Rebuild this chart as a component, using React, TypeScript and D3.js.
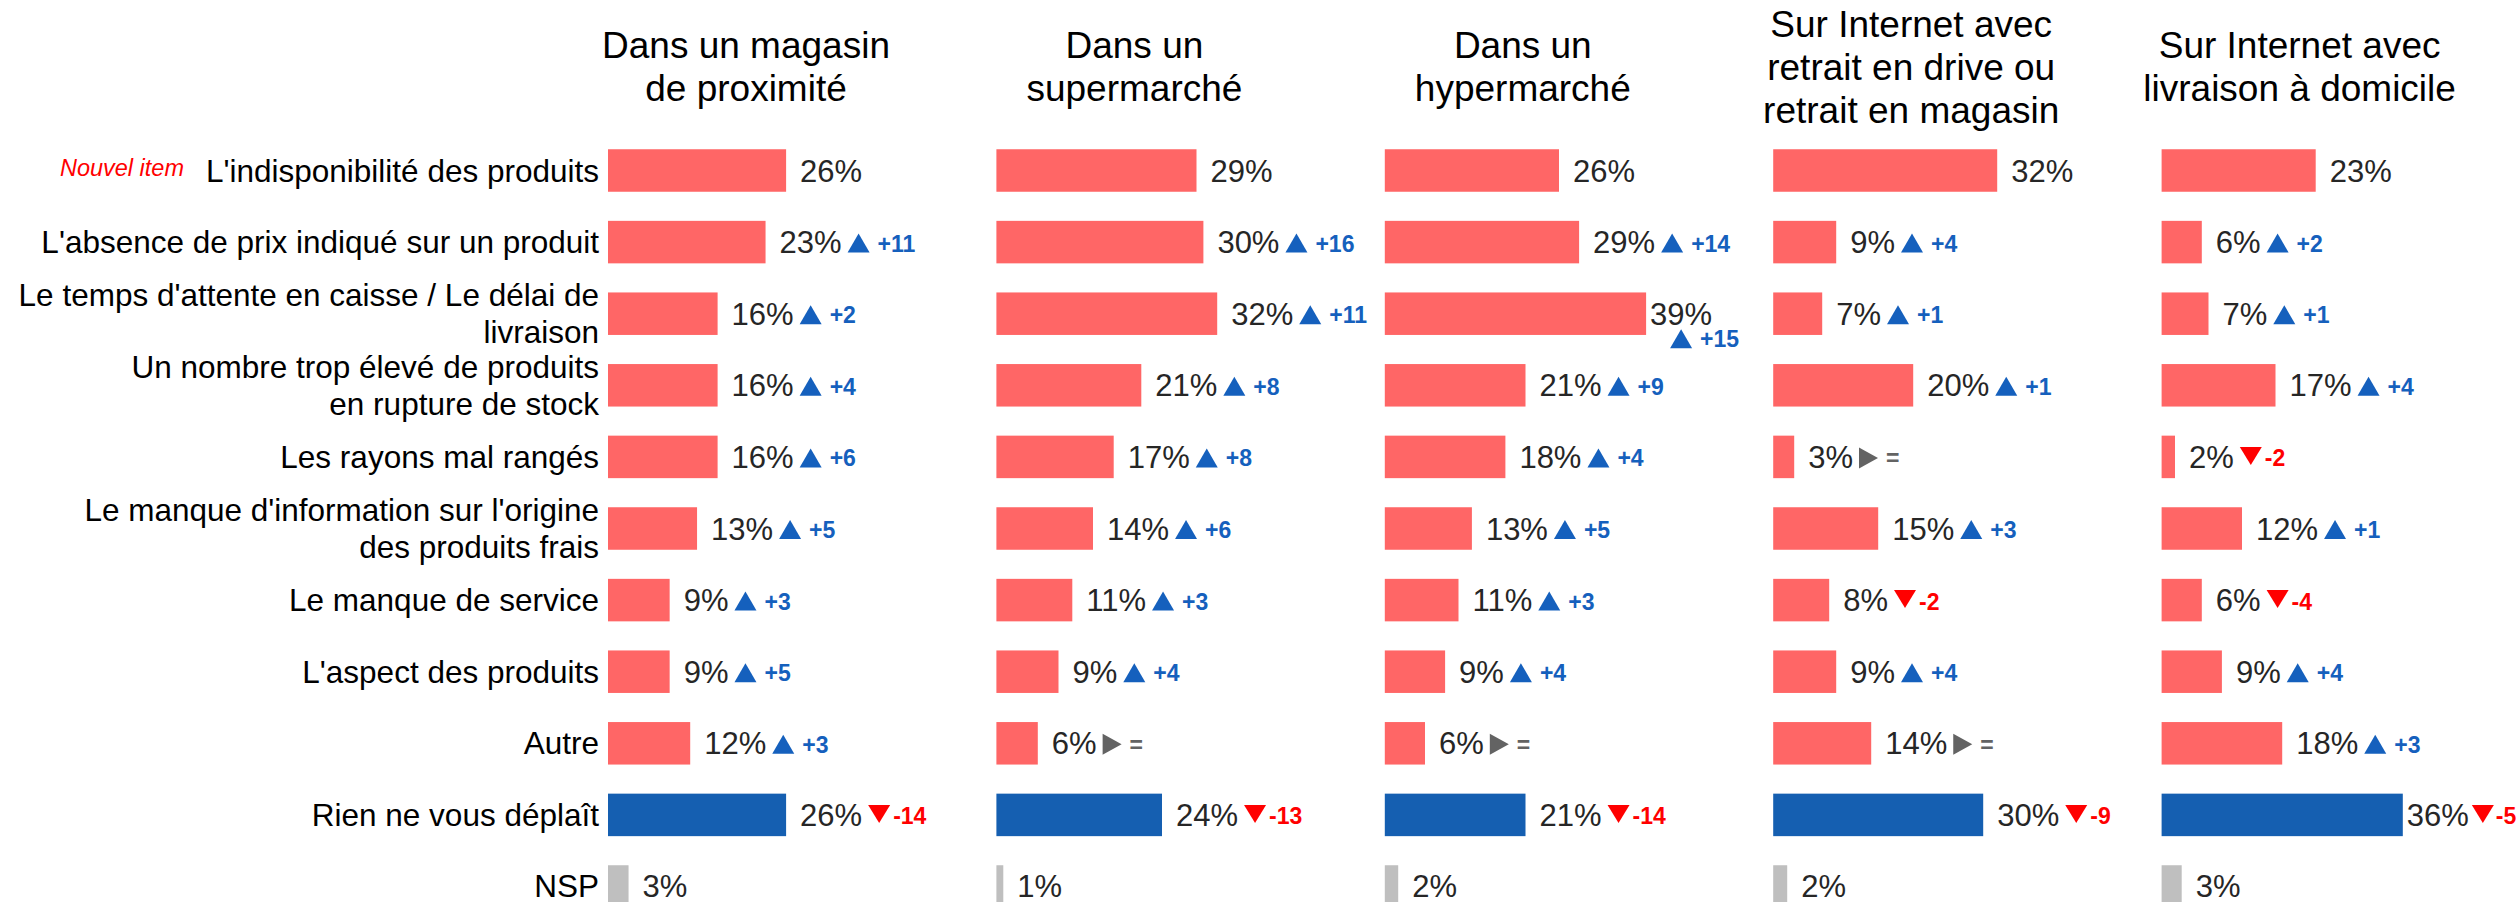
import React from "react";
import * as d3 from "d3";

// ---------- DATA ----------
const categoryLabels: string[][] = [
  ["L'indisponibilité des produits"],
  ["L'absence de prix indiqué sur un produit"],
  ["Le temps d'attente en caisse / Le délai de", "livraison"],
  ["Un nombre trop élevé de produits", "en rupture de stock"],
  ["Les rayons mal rangés"],
  ["Le manque d'information sur l'origine", "des produits frais"],
  ["Le manque de service"],
  ["L'aspect des produits"],
  ["Autre"],
  ["Rien ne vous déplaît"],
  ["NSP"],
];
const categoryKinds = ["item", "item", "item", "item", "item", "item", "item", "item", "item", "rien", "nsp"];
const newItemNote = "Nouvel item";

const panelTitles: string[][] = [
  ["Dans un magasin", "de proximité"],
  ["Dans un", "supermarché"],
  ["Dans un", "hypermarché"],
  ["Sur Internet avec", "retrait en drive ou", "retrait en magasin"],
  ["Sur Internet avec", "livraison à domicile"],
];

const valuesProximite = [26, 23, 16, 16, 16, 13, 9, 9, 12, 26, 3];
const valuesSupermarche = [29, 30, 32, 21, 17, 14, 11, 9, 6, 24, 1];
const valuesHypermarche = [26, 29, 39, 21, 18, 13, 11, 9, 6, 21, 2];
const valuesDrive = [32, 9, 7, 20, 3, 15, 8, 9, 14, 30, 2];
const valuesLivraison = [23, 6, 7, 17, 2, 12, 6, 9, 18, 36, 3];

const deltasProximite = [null, 11, 2, 4, 6, 5, 3, 5, 3, -14, null];
const deltasSupermarche = [null, 16, 11, 8, 8, 6, 3, 4, 0, -13, null];
const deltasHypermarche = [null, 14, 15, 9, 4, 5, 3, 4, 0, -14, null];
const deltasDrive = [null, 4, 1, 1, 0, 3, -2, 4, 0, -9, null];
const deltasLivraison = [null, 2, 1, 4, -2, 1, -4, 4, 3, -5, null];

const panelValues = [valuesProximite, valuesSupermarche, valuesHypermarche, valuesDrive, valuesLivraison];
const panelDeltas = [deltasProximite, deltasSupermarche, deltasHypermarche, deltasDrive, deltasLivraison];

// ---------- STYLE ----------
const FONT = '"Liberation Sans", Arial, Helvetica, sans-serif';
const PINK = "#FF6666";
const BLUE_BAR = "#155FB1";
const GRAY_BAR = "#BFBFBF";
const UP = "#1560BD";
const DOWN = "#FF0000";
const EQ = "#636363";
const VALUE_COLOR = "#262626";

const W = 2516;
const H = 902;

const ctx = typeof document !== "undefined" ? document.createElement("canvas").getContext("2d") : null;
function measure(text: string, font: string): number {
  if (!ctx) return text.length * 15;
  ctx.font = font;
  return ctx.measureText(text).width;
}

function barColor(kind: string) {
  if (kind === "rien") return BLUE_BAR;
  if (kind === "nsp") return GRAY_BAR;
  return PINK;
}

export default function App() {
  const panelX0 = d3.range(panelTitles.length).map((i) => 608 + i * 388.4);
  const pxPerPct = [6.85, 6.9, 6.7, 7.0, 6.7];
  const n = categoryLabels.length;
  const y = d3
    .scalePoint<number>()
    .domain(d3.range(n))
    .range([170.5, 170.5 + 71.6 * (n - 1)]);
  const barH = 42.5;

  const labelSize = 31.5;
  const titleSize = 37;
  const valueSize = 31;
  const deltaSize = 23;

  const valueFont = `${valueSize}px ${FONT}`;
  const deltaFont = `bold ${deltaSize}px ${FONT}`;

  return (
    <div style={{ position: "absolute", left: 0, top: 0, width: W, height: H, overflow: "hidden", background: "#fff" }}>
      <svg width={W} height={H} style={{ display: "block", fontFamily: FONT }}>
        <rect width={W} height={H} fill="#fff" />
        {/* Row labels */}
        {categoryLabels.map((lines, i) => {
          const cy = y(i)!;
          const lh = 36.5;
          const base = categoryKinds[i] === "nsp" ? cy + 10 : cy + 11;
          return (
            <g key={"lab" + i}>
              {lines.map((ln, j) => (
                <text
                  key={j}
                  x={599}
                  y={base + (j - (lines.length - 1) / 2) * lh}
                  textAnchor="end"
                  fontSize={labelSize}
                  fill="#000"
                >
                  {ln}
                </text>
              ))}
            </g>
          );
        })}
        <text x={184} y={y(0)! + 5} textAnchor="end" fontSize={23.5} fontStyle="italic" fill="#FF0000">
          {newItemNote}
        </text>

        {panelTitles.map((title, pi) => {
          const x0 = panelX0[pi];
          const xs = d3.scaleLinear().domain([0, 100]).range([x0, x0 + pxPerPct[pi] * 100]);
          const values = panelValues[pi];
          const deltas = panelDeltas[pi];
          const limit = pi < panelTitles.length - 1 ? panelX0[pi + 1] - 8 : W - 1;
          return (
            <g key={"p" + pi}>
              {title.map((ln, j) => (
                <text
                  key={j}
                  x={x0 + 138}
                  y={79.5 + (j - (title.length - 1) / 2) * 43}
                  textAnchor="middle"
                  fontSize={titleSize}
                  fill="#000"
                >
                  {ln}
                </text>
              ))}
              {values.map((v, ri) => {
                const cy = y(ri)!;
                const barEnd = xs(v);
                const label = `${v}%`;
                const labelW = measure(label, valueFont);
                const d = deltas[ri];
                let labelX = barEnd + 14;
                const labelY = categoryKinds[ri] === "nsp" ? cy + 10 : cy + 11;
                let triPath: string | null = null;
                let triColor = UP;
                let deltaText = "";
                let deltaX = 0;
                let deltaY = cy + 9.5;
                if (d !== null && d !== undefined) {
                  const kind = d > 0 ? "up" : d < 0 ? "down" : "eq";
                  deltaText = d > 0 ? `+${d}` : d < 0 ? `-${Math.abs(d)}` : "=";
                  triColor = kind === "up" ? UP : kind === "down" ? DOWN : EQ;
                  const triW = kind === "eq" ? 19 : 22;
                  const triH = kind === "eq" ? 21 : kind === "down" ? 18 : 19;
                  const deltaW = measure(deltaText, deltaFont);
                  let gap1 = 6;
                  let gap2 = kind === "down" ? 3 : 8;
                  let end = labelX + labelW + gap1 + triW + gap2 + deltaW;
                  let triX = 0;
                  let triCy = kind === "down" ? cy - 1 : cy + 1;
                  if (end > limit) {
                    labelX = barEnd + 4;
                    gap1 = 3;
                    gap2 = 2;
                    end = labelX + labelW + gap1 + triW + gap2 + deltaW;
                  }
                  if (end > limit && pi < panelTitles.length - 1) {
                    triX = labelX + 20;
                    triCy = cy + 25;
                    deltaY = cy + 33.5;
                    gap2 = 8;
                  } else {
                    triX = labelX + labelW + gap1;
                  }
                  deltaX = triX + triW + gap2;
                  if (kind === "up") {
                    triPath = `M${triX},${triCy + triH / 2}L${triX + triW / 2},${triCy - triH / 2}L${triX + triW},${triCy + triH / 2}Z`;
                  } else if (kind === "down") {
                    triPath = `M${triX},${triCy - triH / 2}L${triX + triW},${triCy - triH / 2}L${triX + triW / 2},${triCy + triH / 2}Z`;
                  } else {
                    triPath = `M${triX},${triCy - triH / 2}L${triX + triW},${triCy}L${triX},${triCy + triH / 2}Z`;
                  }
                }
                return (
                  <g key={ri}>
                    <rect
                      x={xs(0)}
                      y={cy - barH / 2}
                      width={barEnd - xs(0)}
                      height={barH}
                      fill={barColor(categoryKinds[ri])}
                    />
                    <text x={labelX} y={labelY} fontSize={valueSize} fill={VALUE_COLOR}>
                      {label}
                    </text>
                    {triPath && <path d={triPath} fill={triColor} />}
                    {triPath && (
                      <text x={deltaX} y={deltaY} fontSize={deltaSize} fontWeight="bold" fill={triColor}>
                        {deltaText}
                      </text>
                    )}
                  </g>
                );
              })}
            </g>
          );
        })}
      </svg>
    </div>
  );
}
